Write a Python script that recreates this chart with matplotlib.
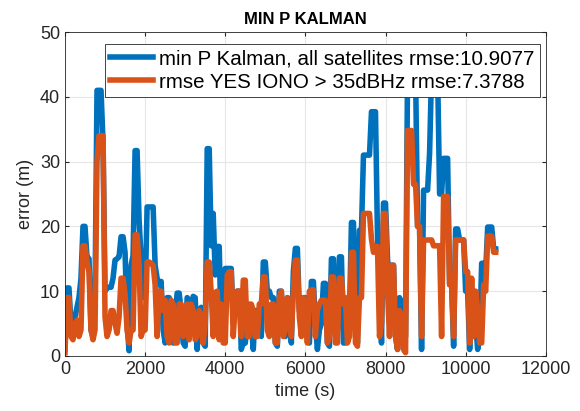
import matplotlib
matplotlib.use("Agg")
import matplotlib.pyplot as pl
import numpy as np

pl.rcParams['font.family'] = ['Liberation Sans', 'DejaVu Sans']

# time axis (s), one sample every 50 s
t = np.arange(0, 10800, 50)

# min P Kalman, all satellites (blue)
err_all = [1, 10.5, 10.5, 5, 5.5, 6, 7.5, 9, 12, 20,
           20, 15.3, 15, 4, 3, 9, 41, 41, 41, 33,
           10, 10.5, 10.6, 10.6, 12, 14.8, 15, 15.3, 18.4, 18.4,
           16, 5, 0.8, 14, 15.5, 31.7, 31.7, 21, 15, 9,
           9, 23, 23, 23, 23, 14, 12, 11, 11.5, 4,
           2, 9, 9, 8, 2, 6, 9.7, 9.7, 7, 2,
           1.5, 9, 8.5, 6, 9.2, 9, 1, 7, 7.5, 2,
           1.5, 32, 32, 17, 22, 12.5, 16.9, 16.9, 3, 12,
           13.5, 13.5, 13.5, 13.5, 5, 7, 10, 10, 1, 2,
           2, 5, 8, 5, 1, 7, 7, 4, 3, 14.5,
           14.5, 10, 10, 9, 9, 2, 1.5, 10, 10, 4,
           3, 9, 8, 2, 13, 16.6, 16.6, 7, 6, 9,
           9, 3, 2, 11.5, 11.5, 5, 1, 4, 5, 11.2,
           11.2, 2, 1.5, 15, 15, 4, 4, 15.3, 15.3, 2,
           2, 6, 6, 20.6, 20.6, 5, 2, 19.4, 19.4, 31,
           31, 31, 31, 37.7, 37.7, 37.7, 18.4, 12, 2, 23.6,
           23.6, 15, 11, 14, 14, 3, 1, 9, 8, 2,
           3, 44, 44, 44, 44, 44, 20, 20, 1, 25.6,
           25.6, 25.6, 31.3, 44, 44, 44, 44, 25, 25, 30.5,
           30.5, 30.5, 11, 11, 1.5, 19.6, 19.6, 17.9, 17.9, 17.9,
           10, 10, 1, 10, 10, 5, 1, 3, 14.3, 14.3,
           13, 19.9, 19.9, 19.9, 16.5, 16.5]

# rmse YES IONO > 35dBHz (orange)
err_iono = [0.5, 9, 9, 3, 2.5, 5, 5.5, 3, 4, 17,
            17, 14.5, 13, 4, 2.5, 4, 30, 34, 34, 34,
            6, 3, 4, 7, 7, 5, 3.5, 6, 12, 12,
            9.5, 4, 2, 4, 4, 18.7, 18.7, 14, 3, 4,
            4, 14.5, 14.5, 14.3, 14, 11, 3, 10, 10, 7,
            8.6, 3, 2, 8.6, 8, 2, 2, 8, 8, 3,
            4, 8, 2.5, 8, 7, 2.5, 3, 7, 6, 2,
            5, 14.5, 14.5, 9.8, 3, 9.8, 10, 2.5, 8, 2,
            2, 12.5, 13, 13, 3, 8, 10, 10, 3, 11.7,
            11.7, 3, 3, 8, 7, 3, 3, 8, 8, 12.2,
            12.2, 4, 3, 8, 8, 2, 2, 9, 10, 3,
            4, 9, 8, 3, 10, 14.8, 14.8, 6, 3, 9,
            7, 2, 10, 10.2, 10.2, 3, 7, 8, 8.6, 8.6,
            8.6, 2, 3, 12.2, 12.2, 2, 2, 12, 12, 8,
            9, 2, 3, 16, 16, 2, 1.5, 9, 9, 22,
            22, 22, 22, 18, 16, 16.9, 16.9, 3, 5, 22,
            22, 10, 3, 14, 14, 3, 1, 7, 6, 1,
            0.5, 34.8, 34.8, 34.8, 26.5, 26.5, 20, 20, 3, 17.9,
            17.9, 17.9, 17.9, 17.9, 17, 17, 17, 17, 3, 24.6,
            24.6, 24.6, 11, 11, 3, 17.9, 17.9, 17.9, 17.9, 17.9,
            13, 13, 2, 12, 3, 10, 7, 2, 2, 11,
            10, 18.5, 18.5, 18.5, 16, 16]

rmse_all = 10.9077
rmse_iono = 7.3788

fig = pl.figure(figsize=(5.8, 4.11), dpi=100)
ax = fig.add_axes([0.112, 0.134, 0.829, 0.788])

ax.plot(t, err_all, color='#0072BD', linewidth=4.0,
        label=f'min P Kalman, all satellites rmse:{rmse_all:.4f}')
ax.plot(t, err_iono, color='#D95319', linewidth=4.0,
        label=f'rmse YES IONO > 35dBHz rmse:{rmse_iono:.4f}')

ax.set_xlim(0, 12000)
ax.set_ylim(0, 50)
ax.set_xticks(np.arange(0, 12001, 2000))
ax.set_yticks(np.arange(0, 51, 10))
ax.grid(True, color='#e6e6e6', linewidth=0.8)
ax.set_axisbelow(True)
ax.tick_params(direction='in', length=3, labelsize=13, colors='#262626',
               top=True, right=True)
for s in ax.spines.values():
    s.set_color('#262626')
    s.set_linewidth(0.6)

ax.set_xlabel('time (s)', fontsize=13, color='#262626')
ax.set_ylabel('error (m)', fontsize=13, color='#262626')
ax.set_title('MIN P KALMAN', fontsize=12, fontweight='bold', color='black')

leg = ax.legend(loc='upper right', bbox_to_anchor=(0.988, 0.962), fontsize=14.8,
                fancybox=False, framealpha=1, edgecolor='#262626',
                handlelength=2.1, borderaxespad=0, labelspacing=0.2,
                borderpad=0.25, handletextpad=0.3)
leg.get_frame().set_linewidth(0.6)

fig.savefig('out.png', dpi=100)
